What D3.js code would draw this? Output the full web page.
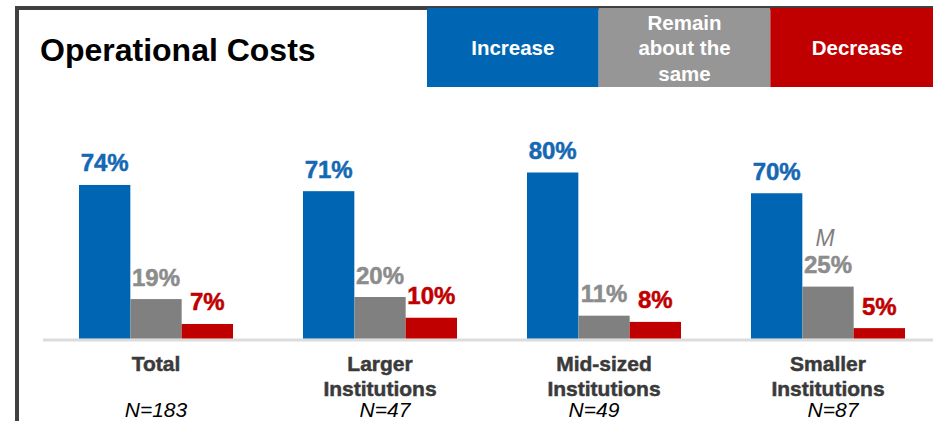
<!DOCTYPE html>
<html>
<head>
<meta charset="utf-8">
<script src="https://cdn.jsdelivr.net/npm/d3@7"></script>
<style>
  html, body { margin: 0; padding: 0; background: #fff; }
  svg { display: block; font-family: "Liberation Sans", Arial, Helvetica, sans-serif; }
</style>
</head>
<body>
<svg id="chart" width="933" height="421"></svg>
<script>
// Survey responses: expected change in operational costs, by institution size
const groups = ["Total", "Larger Institutions", "Mid-sized Institutions", "Smaller Institutions"];
const groupLines = [["Total"], ["Larger", "Institutions"], ["Mid-sized", "Institutions"], ["Smaller", "Institutions"]];
const sampleSizes = ["N=183", "N=47", "N=49", "N=87"];
const seriesNames = ["Increase", "Remain about the same", "Decrease"];
const legendLines = [["Increase"], ["Remain", "about the", "same"], ["Decrease"]];
const increase = [74, 71, 80, 70];
const remainSame = [19, 20, 11, 25];
const decrease = [7, 10, 8, 5];
const markers = ["", "", "", "M"]; // note shown above the "remain" bar

const seriesValues = [increase, remainSame, decrease];
const barColors = ["#0066B3", "#808080", "#C00000"];
const labelColors = ["#1468B4", "#8C8C8C", "#C00000"];
const legendColors = ["#0066B3", "#969696", "#C00000"];
// horizontal nudge of the sample-size captions
const sampleNudge = [0, 5, -10, 5];

const svg = d3.select("#chart");
const W = 933, H = 421;

// frame
svg.append("path")
  .attr("d", `M17,${H} L17,8 L${W},8`)
  .attr("fill", "none").attr("stroke", "#404040").attr("stroke-width", 4);

// title
svg.append("text")
  .attr("x", 40).attr("y", 61)
  .attr("font-size", 32).attr("font-weight", "bold").attr("fill", "#000")
  .text("Operational Costs");

// legend blocks
const legendX = d3.scaleBand().domain(seriesNames).range([427, 942]).padding(0);
const legend = svg.append("g").selectAll("g").data(seriesNames).join("g");
legend.append("rect")
  .attr("x", d => legendX(d)).attr("y", 8)
  .attr("width", legendX.bandwidth()).attr("height", 79)
  .attr("fill", (d, i) => legendColors[i]);
legend.each(function (d, i) {
  const lines = legendLines[i];
  const step = 25.5;
  const midBase = 55;
  const first = midBase - step * (lines.length - 1) / 2;
  const cx = i === 2 ? legendX(d) + 87 : legendX(d) + legendX.bandwidth() / 2;
  const t = d3.select(this).append("text")
    .attr("text-anchor", "middle").attr("font-size", 20.5)
    .attr("font-weight", "bold").attr("fill", "#fff");
  lines.forEach((ln, k) => {
    t.append("tspan").attr("x", cx).attr("y", first + k * step).text(ln);
  });
});

// scales
const x0 = d3.scaleBand().domain(groups).range([44, 940]).padding(0);
const x1 = d3.scaleBand().domain(seriesNames).range([35, 189]).padding(0);
const y = d3.scaleLinear().domain([0, 100]).range([338.5, 131]);

// baseline
svg.append("line")
  .attr("x1", 43).attr("x2", W)
  .attr("y1", y(0) + 1.5).attr("y2", y(0) + 1.5)
  .attr("stroke", "#DCDCDC").attr("stroke-width", 3);

const g = svg.append("g");
const groupG = g.selectAll("g.grp").data(groups).join("g")
  .attr("class", "grp")
  .attr("transform", d => `translate(${x0(d)},0)`);

groupG.each(function (grp, gi) {
  const sel = d3.select(this);
  seriesNames.forEach((s, si) => {
    const v = seriesValues[si][gi];
    sel.append("rect")
      .attr("x", x1(s)).attr("width", x1.bandwidth())
      .attr("y", y(v)).attr("height", y(0) - y(v))
      .attr("fill", barColors[si]);
    sel.append("text")
      .attr("x", x1(s) + x1.bandwidth() / 2).attr("y", y(v) - 13.5)
      .attr("text-anchor", "middle").attr("font-size", 24)
      .attr("font-weight", "bold").attr("fill", labelColors[si])
      .attr("stroke", labelColors[si]).attr("stroke-width", 0.5)
      .text(v + "%");
  });
  if (markers[gi]) {
    const s = seriesNames[1];
    const v = seriesValues[1][gi];
    sel.append("text")
      .attr("x", x1(s) + x1.bandwidth() / 2 - 3).attr("y", y(v) - 41)
      .attr("text-anchor", "middle").attr("font-size", 23)
      .attr("font-style", "italic").attr("fill", "#808080")
      .text(markers[gi]);
  }
  // category label
  const cx = x1(seriesNames[1]) + x1.bandwidth() / 2;
  const t = sel.append("text")
    .attr("text-anchor", "middle").attr("font-size", 21)
    .attr("font-weight", "bold").attr("fill", "#3A3A3A")
    .attr("stroke", "#3A3A3A").attr("stroke-width", 0.5);
  groupLines[gi].forEach((ln, k) => {
    t.append("tspan").attr("x", cx).attr("y", 371 + k * 24.5).text(ln);
  });
  sel.append("text")
    .attr("x", cx + sampleNudge[gi]).attr("y", 416.5)
    .attr("text-anchor", "middle").attr("font-size", 21)
    .attr("font-style", "italic").attr("fill", "#000")
    .text(sampleSizes[gi]);
});
</script>
</body>
</html>
